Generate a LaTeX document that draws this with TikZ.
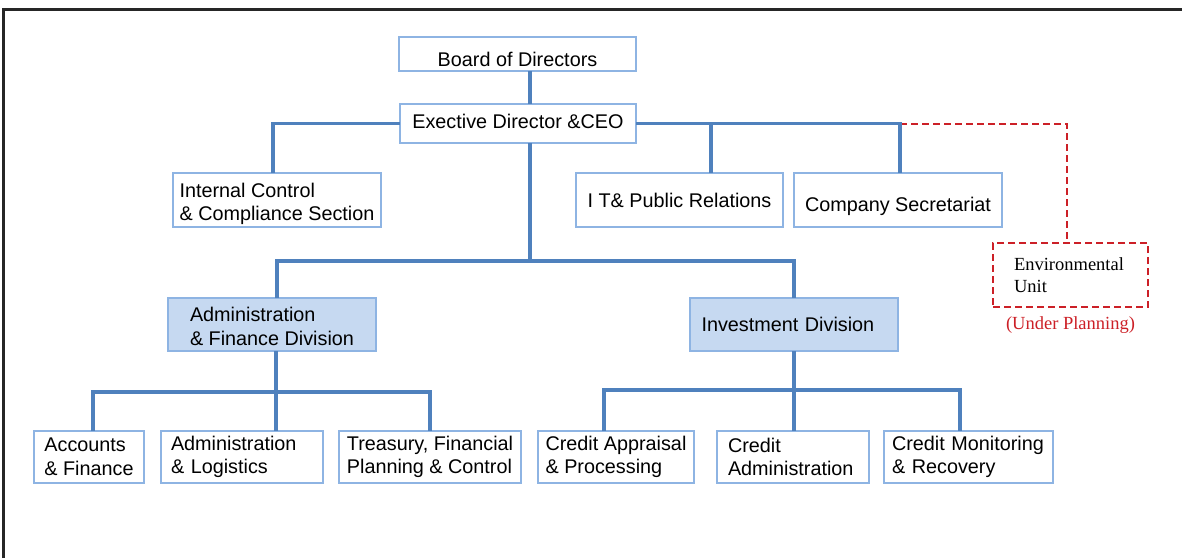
\documentclass[tikz,border=0pt]{standalone}
\usepackage{fontspec}
\setmainfont{Liberation Sans}
\newfontfamily\envfont{Liberation Serif}
\usetikzlibrary{positioning,calc}
\definecolor{boxblue}{RGB}{142,180,227}
\definecolor{lineblue}{RGB}{79,129,189}
\definecolor{divfill}{RGB}{198,217,241}
\definecolor{planred}{RGB}{204,32,39}

\begin{document}
\begin{tikzpicture}[x=1pt, y=-1pt, line join=miter, outer sep=0pt]
\tikzstyle{unit}=[draw=boxblue, line width=1.3pt, fill=white, text=black, inner ysep=0pt, align=left, font=\fontsize{19.8}{23.5}\selectfont]
\tikzstyle{division}=[unit, fill=divfill]
\tikzstyle{link}=[draw=lineblue, line width=3.5pt]
\tikzstyle{plan}=[draw=planred, line width=2pt, dash pattern=on 7pt off 4pt]
\useasboundingbox (0,0) rectangle (1182,558);
\draw[line width=2.5pt, black!85] (3.5,558) -- (3.5,9.5) -- (1182,9.5);

\node[unit, minimum width=237pt, minimum height=34pt, text height=24pt, text depth=0pt] (BD) at (517.5,54) {Board of Directors};
\node[unit, minimum width=236pt, minimum height=39pt, text height=9pt, text depth=0pt] (CEO) at (518,123.5) {Exective Director \&CEO};
\node[unit, minimum width=208pt, minimum height=54pt, text height=46pt] (ICC) at (277,200) {Internal Control\\\& Compliance Section};
\node[unit, minimum width=207pt, minimum height=54pt, text depth=0pt] (ITPR) at (679.5,200) {I T\& Public Relations};
\node[unit, minimum width=208pt, minimum height=54pt, text height=22pt, text depth=0pt] (CS) [right=11pt of ITPR] {Company Secretariat};
\node[unit, plan, text width=113pt, inner xsep=21pt, minimum height=64pt, font=\envfont\fontsize{18.5}{22}\selectfont] (ENV) at (1070.5,275) {Environmental\\Unit};
\node[inner sep=0pt, text=planred, font=\envfont\fontsize{18.5}{22}\selectfont] (UP) [below=10pt of ENV] {(Under Planning)};

\node[division, minimum width=208pt, minimum height=53pt, text height=42pt] (AFD) at (272,324.5) {Administration\\\& Finance Division};
\node[division, text width=185pt, inner xsep=11.5pt, minimum height=53pt] (INV) at (794,324.5) {Investment Division};

\node[unit, minimum width=110pt, minimum height=52pt] (ACC) at (89,457) {Accounts\\\& Finance};
\node[unit, text width=142pt, inner xsep=10pt, minimum height=52pt] (ADL) [right=17pt of ACC] {Administration\\\& Logistics};
\node[unit, minimum width=182pt, minimum height=52pt] (TRE) [right=16pt of ADL] {Treasury, Financial\\Planning \& Control};
\node[unit, minimum width=156pt, minimum height=52pt] (CAP) [right=17pt of TRE] {Credit Appraisal\\\& Processing};
\node[unit, text width=130pt, inner xsep=11pt, minimum height=52pt] (CAD) [right=23pt of CAP] {Credit\\Administration};
\node[unit, text width=153pt, inner xsep=8pt, minimum height=52pt] (CMR) [right=15pt of CAD] {Credit Monitoring\\\& Recovery};

\coordinate (HUB) at (530,261);
\coordinate (AFB) at (276,392);
\coordinate (INB) at (794,390);
\coordinate (CSTOP) at ([xshift=2pt]CS.north);
\coordinate (ITTOP) at ([xshift=31.5pt]ITPR.north);

\draw[plan] (CSTOP |- CEO.east) -| ([xshift=-4pt]ENV.north);
\draw[link] ([xshift=12.5pt]BD.south) -- ([xshift=12pt]CEO.north);
\draw[link] ([xshift=-4pt]ICC.north) |- (CEO.west);
\draw[link] (CEO.east) -| (CSTOP);
\draw[link] (ITTOP) -- (ITTOP |- CEO.east);
\draw[link] ([xshift=12pt]CEO.south) -- (HUB);
\draw[link] ([xshift=5pt]AFD.north) |- (HUB) -| (INV.north);
\draw[link] (AFB |- AFD.south) -- (AFB |- ADL.north);
\draw[link] ([xshift=4pt]ACC.north) |- (AFB) -| (TRE.north);
\draw[link] (INV.south) -- (INV.south |- CAD.north);
\draw[link] ([xshift=-12pt]CAP.north) |- (INB) -| ([xshift=-8.5pt]CMR.north);
\end{tikzpicture}
\end{document}
